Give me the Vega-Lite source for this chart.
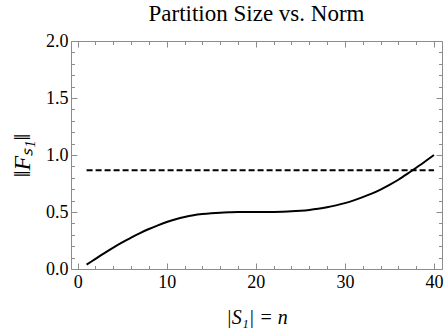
{
  "$schema": "https://vega.github.io/schema/vega-lite/v6.json",
  "width": 371,
  "height": 228,
  "autosize": {"type": "none"},
  "padding": {"left": 71, "top": 41, "right": 6, "bottom": 59},
  "background": "white",
  "title": {"text": "Partition Size vs. Norm", "font": "Liberation Serif", "fontSize": 23, "fontWeight": "normal", "color": "black", "offset": 6},
  "config": {
    "font": "Liberation Serif",
    "view": {"stroke": "#8c8c8c", "strokeWidth": 1},
    "axis": {"grid": false, "domain": false, "tickColor": "#8c8c8c", "tickWidth": 1, "labelColor": "black", "titleColor": "black", "labelOverlap": false, "labelFlush": false, "labelFont": "Liberation Serif", "titleFont": "Liberation Serif"}
  },
  "layer": [
    {
      "data": {"values": [
        {"n": 1, "v": 0.038}, {"n": 2, "v": 0.089}, {"n": 3, "v": 0.14}, {"n": 4, "v": 0.188}, {"n": 5, "v": 0.233},
        {"n": 6, "v": 0.276}, {"n": 7, "v": 0.315}, {"n": 8, "v": 0.351}, {"n": 9, "v": 0.383}, {"n": 10, "v": 0.412},
        {"n": 11, "v": 0.437}, {"n": 12, "v": 0.457}, {"n": 13, "v": 0.472}, {"n": 14, "v": 0.482}, {"n": 15, "v": 0.489},
        {"n": 16, "v": 0.494}, {"n": 17, "v": 0.497}, {"n": 18, "v": 0.499}, {"n": 19, "v": 0.5}, {"n": 20, "v": 0.5},
        {"n": 21, "v": 0.5}, {"n": 22, "v": 0.501}, {"n": 23, "v": 0.503}, {"n": 24, "v": 0.506}, {"n": 25, "v": 0.511},
        {"n": 26, "v": 0.518}, {"n": 27, "v": 0.528}, {"n": 28, "v": 0.541}, {"n": 29, "v": 0.558}, {"n": 30, "v": 0.578},
        {"n": 31, "v": 0.602}, {"n": 32, "v": 0.63}, {"n": 33, "v": 0.661}, {"n": 34, "v": 0.697}, {"n": 35, "v": 0.738},
        {"n": 36, "v": 0.783}, {"n": 37, "v": 0.834}, {"n": 38, "v": 0.888}, {"n": 39, "v": 0.943}, {"n": 40, "v": 1.0}
      ]},
      "mark": {"type": "line", "color": "black", "strokeWidth": 2, "interpolate": "monotone"},
      "encoding": {
        "x": {"field": "n", "type": "quantitative",
          "scale": {"domain": [-0.75, 40.9], "nice": false, "zero": false},
          "axis": {"orient": "bottom", "values": [0,2,4,6,8,10,12,14,16,18,20,22,24,26,28,30,32,34,36,38,40],
            "tickSize": {"condition": {"test": "datum.value % 10 === 0", "value": -6}, "value": -3.5},
            "labelExpr": "datum.value % 10 === 0 ? datum.label : ''",
            "labelFont": "Liberation Serif", "labelFontSize": 18,
            "labelPadding": 10, "title": "|S₁| = n", "titleFont": "Liberation Serif", "titleFontSize": 20, "titleFontWeight": "normal", "titleFontStyle": "italic", "titlePadding": 14}},
        "y": {"field": "v", "type": "quantitative",
          "scale": {"domain": [0, 2], "nice": false, "zero": false},
          "axis": {"orient": "left", "values": [0,0.1,0.2,0.3,0.4,0.5,0.6,0.7,0.8,0.9,1,1.1,1.2,1.3,1.4,1.5,1.6,1.7,1.8,1.9,2],
            "tickSize": {"condition": {"test": "round(datum.value * 10) % 5 === 0", "value": -6}, "value": -3.5},
            "labelExpr": "round(datum.value * 10) % 5 === 0 ? format(datum.value, '.1f') : ''",
            "labelFont": "Liberation Serif", "labelFontSize": 18,
            "labelPadding": 9, "title": "‖Fₛ₁‖", "titleFont": "Liberation Serif", "titleFontSize": 24, "titleFontWeight": "normal", "titleFontStyle": "italic", "titlePadding": 11}}
      }
    },
    {
      "data": {"values": [{"n": 1, "v": 0.866}, {"n": 40, "v": 0.866}]},
      "mark": {"type": "line", "color": "black", "strokeWidth": 2, "strokeDash": [6, 3]},
      "encoding": {
        "x": {"field": "n", "type": "quantitative",
          "scale": {"domain": [-0.75, 40.9], "nice": false, "zero": false},
          "axis": {"orient": "top", "values": [0,2,4,6,8,10,12,14,16,18,20,22,24,26,28,30,32,34,36,38,40],
            "tickSize": {"condition": {"test": "datum.value % 10 === 0", "value": -6}, "value": -3.5},
            "labels": false, "title": null}},
        "y": {"field": "v", "type": "quantitative",
          "scale": {"domain": [0, 2], "nice": false, "zero": false},
          "axis": {"orient": "right", "values": [0,0.1,0.2,0.3,0.4,0.5,0.6,0.7,0.8,0.9,1,1.1,1.2,1.3,1.4,1.5,1.6,1.7,1.8,1.9,2],
            "tickSize": {"condition": {"test": "round(datum.value * 10) % 5 === 0", "value": -6}, "value": -3.5},
            "labels": false, "title": null}}
      }
    }
  ],
  "resolve": {"axis": {"x": "independent", "y": "independent"}}
}
